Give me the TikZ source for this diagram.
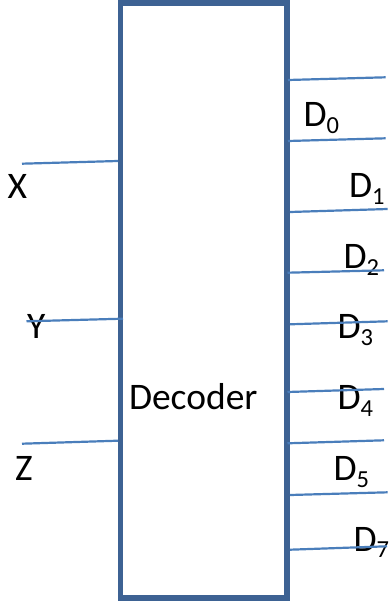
\documentclass[tikz,border=0pt]{standalone}
\usepackage{fontspec}
\setmainfont{Carlito}
\definecolor{boxblue}{HTML}{3D6293}
\definecolor{wireblue}{HTML}{4A7EBB}
\newcommand{\dlab}[1]{D\raisebox{-6.5pt}{\fontsize{24.5}{25}\selectfont #1}}
\tikzset{
  lab/.style={inner sep=0pt,outer sep=0pt,anchor=base west,font=\fontsize{37.5}{40}\selectfont,text=black},
  wire/.style={draw=wireblue,line width=2.2pt},
  blockbox/.style={draw=boxblue,line width=5.4pt,fill=none,inner sep=0pt,outer sep=0pt,anchor=north west,minimum width=166.5pt,minimum height=595pt},
}
\begin{document}
\begin{tikzpicture}[x=1pt,y=-1pt]
\useasboundingbox (0,0) rectangle (390,601);
\node[lab] (lx) at (7.5,198.7) {X};
\node[lab] (ly) at (27,338.5) {Y};
\node[lab] (lz) at (15,480.5) {Z};
\node[lab] (ld0) at (303.5,127) {\dlab{0}};
\node[lab] (ld1) at (349,198) {\dlab{1}};
\node[lab] (ld2) at (343.5,268.5) {\dlab{2}};
\node[lab] (ld3) at (337.5,338.5) {\dlab{3}};
\node[lab] (ld4) at (337.5,409.5) {\dlab{4}};
\node[lab] (ld5) at (333.5,480.5) {\dlab{5}};
\node[lab] (ld7) at (353.5,551) {\dlab{7}};
\node[lab] (dec) at (129,409.5) {Decoder};
\node[blockbox] (box) at (120.5,3) {};
\coordinate (ix) at (22,163.7);   \coordinate (ixe) at (118,161);
\coordinate (iy) at (26.5,321.3); \coordinate (iye) at (123,318.7);
\coordinate (iz) at (22,443.7);   \coordinate (ize) at (118,440.7);
\coordinate (a1) at (288,80);     \coordinate (b1) at (385.7,77.3);
\coordinate (a2) at (288,141);    \coordinate (b2) at (385.7,138.3);
\coordinate (a3) at (290,212);    \coordinate (b3) at (387.7,209);
\coordinate (a4) at (287.5,272.7);\coordinate (b4) at (384,270.3);
\coordinate (a5) at (290,324.3);  \coordinate (b5) at (387.7,321.3);
\coordinate (a6) at (287.5,392);  \coordinate (b6) at (384,389);
\coordinate (a7) at (287.5,443.3);\coordinate (b7) at (384,440.3);
\coordinate (a8) at (290,495);    \coordinate (b8) at (387.7,492.3);
\coordinate (a9) at (290,549.7);  \coordinate (b9) at (387,546.3);
\draw[wire] (ix) -- (ixe);
\draw[wire] (iy) -- (iye);
\draw[wire] (iz) -- (ize);
\foreach \i in {1,...,9} {\draw[wire] (a\i) -- (b\i);}
\end{tikzpicture}
\end{document}
